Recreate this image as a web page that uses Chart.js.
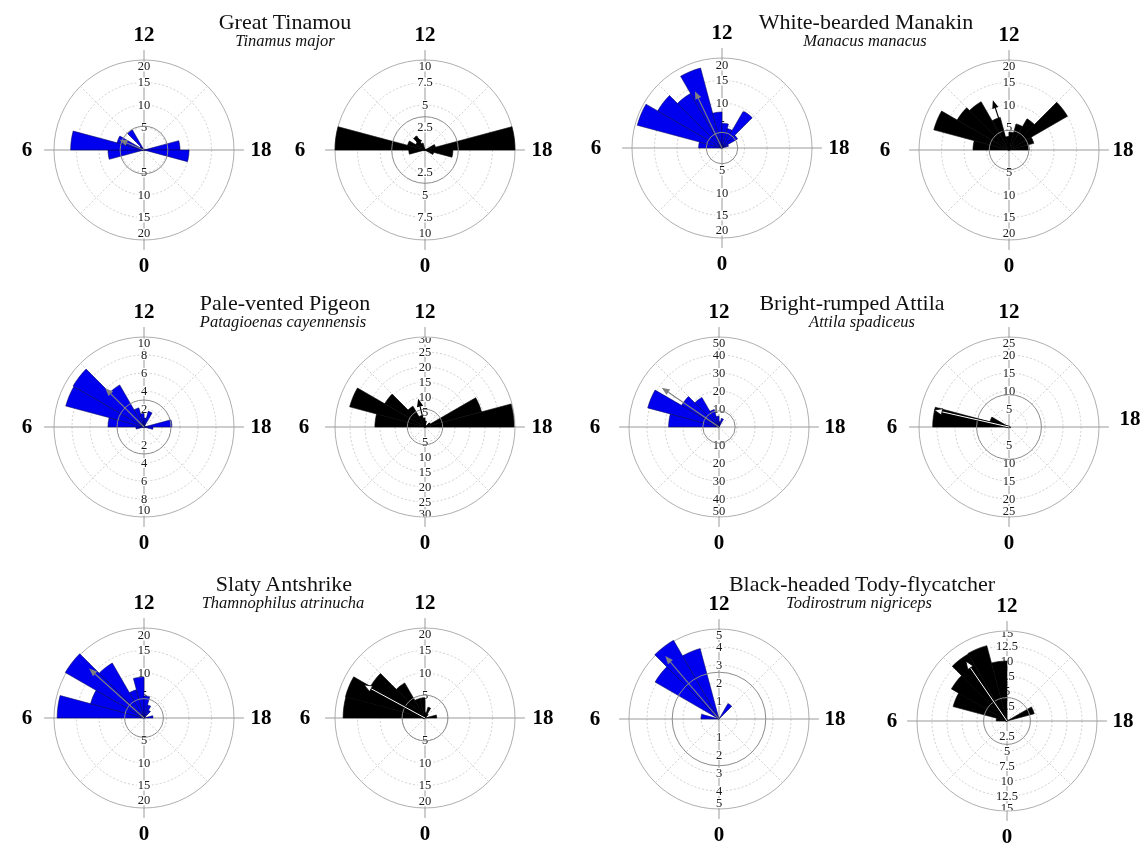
<!DOCTYPE html>
<html>
<head>
<meta charset="utf-8">
<script src="https://cdn.jsdelivr.net/npm/chart.js@4.4.0/dist/chart.umd.min.js"></script>
<style>
  html, body { margin: 0; padding: 0; background: #fff; }
  body { width: 1145px; height: 848px; position: relative; overflow: hidden; font-family: "Liberation Serif", "DejaVu Serif", serif; }
  canvas { position: absolute; }
  .title { position: absolute; transform: translateX(-50%); white-space: nowrap; font-size: 22px; line-height: 22px; color: #111; }
  .latin { position: absolute; transform: translateX(-50%); white-space: nowrap; font-size: 16.5px; line-height: 16.5px; font-style: italic; color: #111; }
</style>
</head>
<body>
<script>
// hour bins, 0 at the bottom, running clockwise
const hours = ['0', '1', '2', '3', '4', '5', '6', '7', '8', '9', '10', '11',
  '12', '13', '14', '15', '16', '17', '18', '19', '20', '21', '22', '23'];

// counts per hour bin (index = hour)
const tinamouBlue    = [0, 0, 0, 0, 0, 8, 16.3, 6.2, 1, 5.2, 0, 0, 0, 0, 0, 0, 0, 8, 10, 0, 0, 0, 0, 0];
const tinamouBlack   = [0, 0, 0, 0, 0, 1.8, 10, 2, 1.2, 1.8, 0.8, 0, 0, 0, 0, 0, 1.2, 10, 3.1, 1, 0, 0, 0, 0];
const manakinBlue    = [0, 0, 0, 0, 0, 0, 5.2, 19.5, 16.5, 14, 18.4, 8, 5.5, 4.5, 9.5, 4, 1.5, 0, 0, 0, 0, 0, 0, 0];
const manakinBlack   = [0, 0, 0, 0, 0, 0, 8, 17.3, 13.3, 12.4, 7.5, 3, 4, 6, 8, 15, 5.7, 4.5, 0, 0, 0, 0, 0, 0];
const pigeonBlue     = [0, 0, 0, 0, 0, 0.9, 4, 9, 9.1, 5.4, 2.2, 1.5, 1, 1.8, 0, 0, 0, 3.1, 1, 0, 0, 0, 0, 0];
const pigeonBlack    = [0, 0, 0, 0, 0, 0, 16.7, 26, 15.5, 8, 4, 3, 2, 0, 0, 2, 19.5, 29.7, 0, 0, 0, 0, 0, 0];
const attilaBlue     = [0, 0, 0, 0, 0, 0, 28, 41, 24, 19, 10, 6, 3, 5, 0, 0, 0, 0, 0, 0, 0, 0, 0, 0];
const attilaBlack    = [0, 0, 0, 0, 0, 0, 21.2, 5.5, 0, 0, 0, 0, 0, 0, 0, 0, 0, 0, 0.5, 0, 0, 0, 0, 0];
const antshrikeBlue  = [0, 0, 0, 0, 0, 0, 19.3, 12.3, 20.2, 14.1, 6.5, 9.1, 4.9, 3, 2, 0, 0, 2, 0, 0, 0, 0, 0, 0];
const antshrikeBlack = [0, 0, 0, 0, 0, 0, 18.2, 18.3, 14, 9, 4.5, 4.5, 1.2, 2.5, 1, 0, 0, 2.6, 0, 0, 0, 0, 0, 0];
const todyBlue       = [0, 0, 0, 0, 0, 0, 1, 0, 4.1, 5.05, 4.05, 0, 0, 0, 1, 0, 0, 0, 0, 0, 0, 0, 0, 0];
const todyBlack      = [0, 0, 0, 0, 0, 0, 1.8, 9.3, 10.7, 12.9, 13, 10, 0, 0, 0, 0, 4.7, 0, 0, 0, 0, 0, 0, 0];

const panelSeries = [tinamouBlue, tinamouBlack, manakinBlue, manakinBlack,
  pigeonBlue, pigeonBlack, attilaBlue, attilaBlack,
  antshrikeBlue, antshrikeBlack, todyBlue, todyBlack];

// radial axis per panel
const axisMax  = [20, 10, 20, 20, 10, 30, 50, 25, 20, 20, 5, 15];
const axisStep = [5, 2.5, 5, 5, 2, 5, 10, 5, 5, 5, 1, 2.5];

// mean vector (hour, length) and reference circle per panel
const meanHour   = [7.5, 9.6, 10.3, 10.8, 9.0, 11.1, 8.3, 6.85, 8.8, 7.9, 9.3, 9.7];
const meanLength = [5.9, 1.9, 14, 11.6, 6.1, 9.7, 38.6, 21.3, 16.4, 15.4, 4.6, 12.1];
const refCircle  = [5.3, 3.7, 3.5, 4.4, 3.0, 5.9, 9, 9, 4.3, 5.1, 2.6, 3.9];

const commonNames = ['Great Tinamou', 'White-bearded Manakin', 'Pale-vented Pigeon',
  'Bright-rumped Attila', 'Slaty Antshrike', 'Black-headed Tody-flycatcher'];
const latinNames = ['Tinamus major', 'Manacus manacus', 'Patagioenas cayennensis',
  'Attila spadiceus', 'Thamnophilus atrinucha', 'Todirostrum nigriceps'];

// layout
const centerX = [144, 425, 722, 1009, 144, 425, 719, 1009, 144, 425, 719, 1007];
const centerY = [150, 150, 148, 150, 427, 427, 427, 427, 718, 718, 719, 721];
const leftLabelOff  = [117, 125, 126, 124, 117, 121, 124, 117, 117, 120, 124, 115];
const rightLabelOff = [117, 117, 117, 114, 117, 117, 116, 121, 117, 118, 116, 116];
const rightLabelDy  = [0, 0, 0, 0, 0, 0, 0, -8, 0, 0, 0, 0];
const outerTickInset = [6.5, 6.5, 7.5, 6.5, 6.5, 2.5, 6, 6, 7.5, 6.5, 6, 2.5];
const titleX = [285, 866, 285, 852, 284, 862];
const latinX = [285, 865, 283, 862, 283, 859];
const titleBase = [29, 310, 591];
const latinBase = [47, 328, 609];
const SIZE = 280, PAD = 50;

const serif = '"Liberation Serif", "DejaVu Serif", serif';

function line(ctx, a, b) {
  ctx.beginPath();
  ctx.moveTo(a.x, a.y);
  ctx.lineTo(b.x, b.y);
  ctx.stroke();
}

const roseDecor = {
  id: 'roseDecor',
  beforeDatasetsDraw(chart, args, opts) {
    const s = chart.scales.r, ctx = chart.ctx, R = s.drawingArea;
    const c = { x: s.xCenter, y: s.yCenter };
    ctx.save();
    ctx.strokeStyle = '#c4c4c4';
    ctx.lineWidth = 0.8;
    ctx.setLineDash([2, 2]);
    [3, 9, 15, 21].forEach(h => line(ctx, c, s.getPointPosition(h, R)));
    ctx.setLineDash([]);
    ctx.strokeStyle = '#9a9a9a';
    ctx.lineWidth = 1;
    [0, 6].forEach(h => line(ctx, s.getPointPosition(h, R * 1.11), s.getPointPosition(h + 12, R * 1.11)));

    // radial tick labels, up and down the vertical axis, kept inside the rim
    ctx.beginPath();
    ctx.arc(c.x, c.y, R - 0.5, 0, Math.PI * 2);
    ctx.clip();
    ctx.font = '12.5px ' + serif;
    ctx.textAlign = 'center';
    ctx.textBaseline = 'middle';
    s.ticks.forEach(t => {
      if (!t.value) return;
      let d = s.getDistanceFromCenterForValue(t.value);
      if (t.value === s.max) d -= opts.inset;
      [12, 0].forEach(h => {
        const p = s.getPointPosition(h, d);
        const w = ctx.measureText(t.label).width;
        ctx.fillStyle = '#fff';
        ctx.fillRect(p.x - w / 2 - 1, p.y - 5, w + 2, 10);
        ctx.fillStyle = '#1a1a1a';
        ctx.fillText(t.label, p.x, p.y + 0.5);
      });
    });
    ctx.restore();
  },
  afterDatasetsDraw(chart, args, opts) {
    const s = chart.scales.r, ctx = chart.ctx, R = s.drawingArea;
    const c = { x: s.xCenter, y: s.yCenter };
    ctx.save();
    // reference circle
    ctx.strokeStyle = '#8a8a8a';
    ctx.lineWidth = 1;
    ctx.beginPath();
    ctx.arc(c.x, c.y, s.getDistanceFromCenterForValue(opts.ref), 0, Math.PI * 2);
    ctx.stroke();

    // mean vector arrow
    const tip = s.getPointPosition(opts.hour, s.getDistanceFromCenterForValue(opts.len));
    const ang = Math.atan2(tip.y - c.y, tip.x - c.x);
    const hl = 8, hw = 3.2;
    const base = { x: tip.x - hl * Math.cos(ang), y: tip.y - hl * Math.sin(ang) };
    const head = () => {
      ctx.beginPath();
      ctx.moveTo(tip.x, tip.y);
      ctx.lineTo(base.x + hw * Math.sin(ang), base.y - hw * Math.cos(ang));
      ctx.lineTo(base.x - hw * Math.sin(ang), base.y + hw * Math.cos(ang));
      ctx.closePath();
    };
    if (opts.arrow === 'white') {
      ctx.strokeStyle = '#000';
      ctx.lineWidth = 2.6;
      line(ctx, c, base);
      ctx.strokeStyle = '#fff';
      ctx.lineWidth = 1;
      line(ctx, c, base);
      head();
      ctx.fillStyle = '#fff';
      ctx.fill();
      ctx.strokeStyle = '#000';
      ctx.lineWidth = 0.8;
      ctx.stroke();
    } else {
      ctx.strokeStyle = opts.arrow;
      ctx.fillStyle = opts.arrow;
      ctx.lineWidth = 1.1;
      line(ctx, c, base);
      head();
      ctx.fill();
    }

    // hour labels
    ctx.fillStyle = '#000';
    ctx.font = 'bold 21px ' + serif;
    ctx.textAlign = 'center';
    ctx.textBaseline = 'middle';
    const spots = [
      { h: 12, d: 116, dy: 2 },
      { h: 0, d: 115, dy: 2 },
      { h: 6, d: opts.left, dy: 1 },
      { h: 18, d: opts.right, dy: 1 + opts.rightDy }
    ];
    spots.forEach(o => {
      const p = s.getPointPosition(o.h, o.d);
      ctx.fillText(String(o.h), p.x, p.y + o.dy);
    });
    ctx.restore();
  }
};

panelSeries.forEach((values, i) => {
  const blue = i % 2 === 0;
  const cv = document.createElement('canvas');
  cv.width = SIZE;
  cv.height = SIZE;
  cv.style.left = (centerX[i] - SIZE / 2) + 'px';
  cv.style.top = (centerY[i] - SIZE / 2) + 'px';
  document.body.appendChild(cv);
  const max = axisMax[i];
  new Chart(cv.getContext('2d'), {
    type: 'polarArea',
    data: {
      labels: hours,
      datasets: [{
        data: values,
        backgroundColor: blue ? '#0000ee' : '#000000',
        borderColor: blue ? 'rgba(0,0,90,0.9)' : '#000000',
        borderWidth: 0.6
      }]
    },
    options: {
      responsive: false,
      animation: false,
      devicePixelRatio: 1,
      layout: { padding: PAD },
      scales: {
        r: {
          type: 'radialLinear',
          min: 0,
          max: max,
          startAngle: 180,
          ticks: { display: false, stepSize: axisStep[i] },
          grid: {
            color: ctx => (ctx.tick && ctx.tick.value === max) ? '#9a9a9a' : '#c4c4c4',
            lineWidth: 0.8
          },
          border: { dash: ctx => (ctx.tick && ctx.tick.value === max) ? [] : [2, 2] },
          angleLines: { display: false },
          pointLabels: { display: false }
        }
      },
      plugins: {
        legend: { display: false },
        tooltip: { enabled: false },
        roseDecor: {
          hour: meanHour[i],
          len: meanLength[i],
          ref: refCircle[i],
          inset: outerTickInset[i],
          left: leftLabelOff[i],
          right: rightLabelOff[i],
          rightDy: rightLabelDy[i],
          arrow: blue ? '#808080' : ([7, 9, 11].includes(i) ? 'white' : '#000')
        }
      }
    },
    plugins: [roseDecor]
  });
});

commonNames.forEach((name, k) => {
  const row = Math.floor(k / 2);
  const t = document.createElement('div');
  t.className = 'title';
  t.textContent = name;
  t.style.left = titleX[k] + 'px';
  t.style.top = (titleBase[row] - 18.4) + 'px';
  document.body.appendChild(t);
  const l = document.createElement('div');
  l.className = 'latin';
  l.textContent = latinNames[k];
  l.style.left = latinX[k] + 'px';
  l.style.top = (latinBase[row] - 13.8) + 'px';
  document.body.appendChild(l);
});
</script>
</body>
</html>
